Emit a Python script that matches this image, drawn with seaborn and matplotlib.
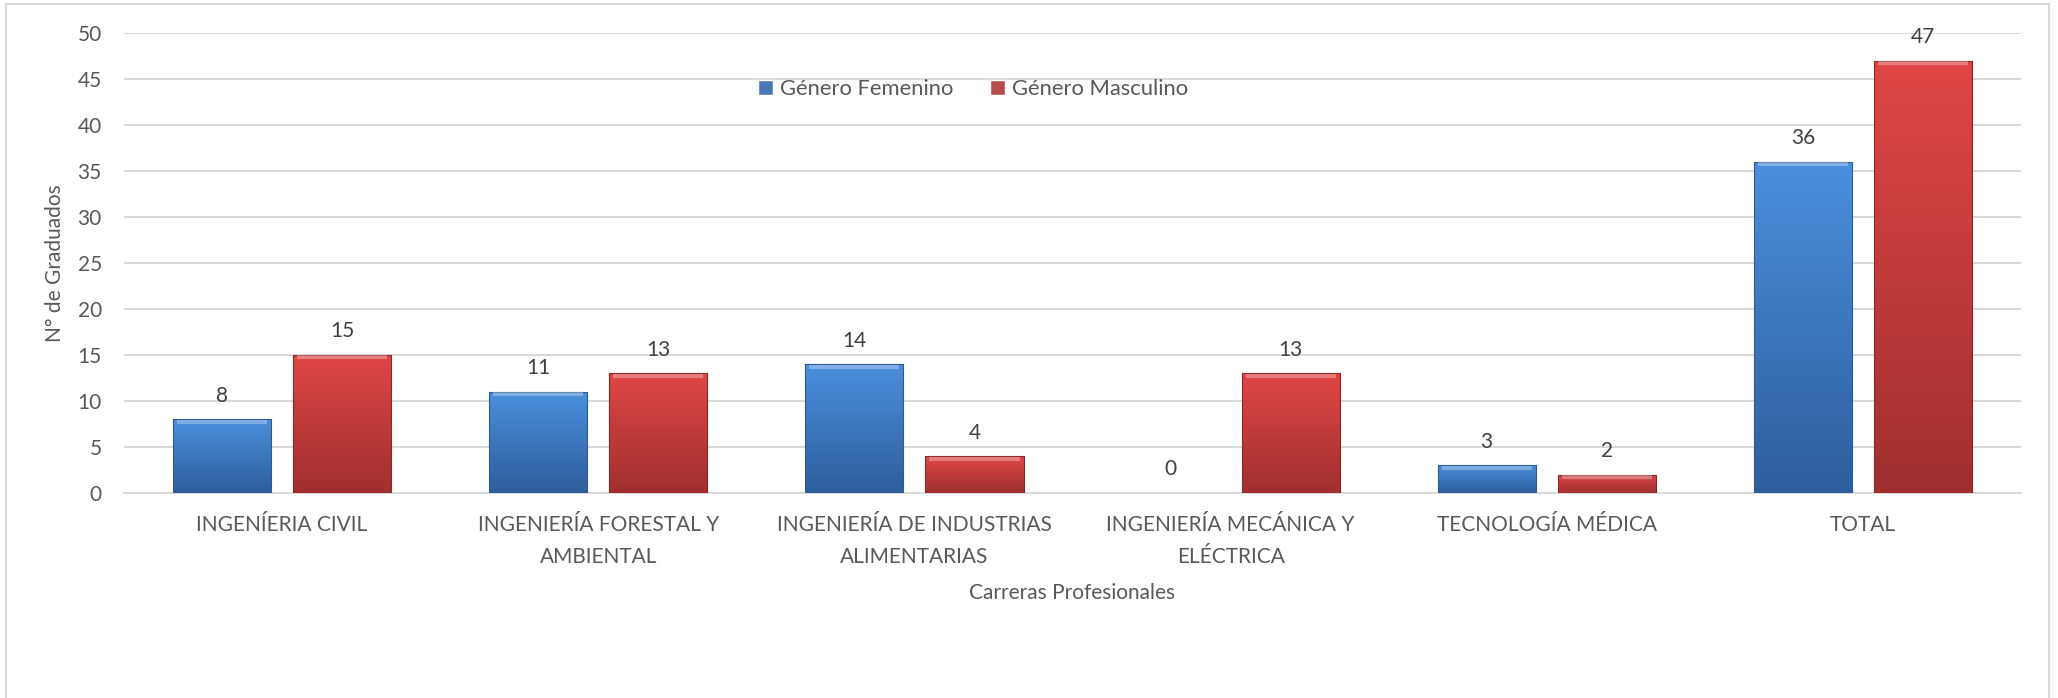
import numpy as np
import pandas as pd
import matplotlib
matplotlib.use('Agg')
import matplotlib.pyplot as plt
import seaborn as sns
from matplotlib.colors import LinearSegmentedColormap
from matplotlib.patches import Rectangle

# Datos
carreras = ['INGENÍERIA CIVIL', 'INGENIERÍA FORESTAL Y\nAMBIENTAL',
            'INGENIERÍA DE INDUSTRIAS\nALIMENTARIAS', 'INGENIERÍA MECÁNICA Y\nELÉCTRICA',
            'TECNOLOGÍA MÉDICA', 'TOTAL']
femenino = [8, 11, 14, 0, 3, 36]
masculino = [15, 13, 4, 13, 2, 47]
generos = ['Género Femenino', 'Género Masculino']

df = pd.DataFrame({
    'Carrera': carreras * 2,
    'Graduados': femenino + masculino,
    'Genero': [generos[0]] * len(carreras) + [generos[1]] * len(carreras),
})

sns.set_style('white')
plt.rcParams['font.family'] = ['Lato', 'DejaVu Sans']

text_gray = '#595959'
colores = {generos[0]: '#3A78C4', generos[1]: '#C83B3B'}
gradientes = {
    generos[0]: ('#4A8FDD', '#2E5E9C'),
    generos[1]: ('#E04646', '#A02F2F'),
}
bordes = {generos[0]: '#2F5A90', generos[1]: '#8A2828'}

fig = plt.figure(figsize=(20.58, 6.98), dpi=100)
ax = fig.add_axes([124 / 2058, 1 - 493 / 698, (2021 - 124) / 2058, 460 / 698])

sns.barplot(data=df, x='Carrera', y='Graduados', hue='Genero', palette=colores,
            width=0.76, gap=0.184, ax=ax, zorder=3, legend=True)

# degradado en cada barra
for cont, gen in zip(ax.containers, generos):
    cmap = LinearSegmentedColormap.from_list(gen, [gradientes[gen][1], gradientes[gen][0]])
    for bar in cont:
        h = bar.get_height()
        if h <= 0:
            bar.set_visible(False)
            continue
        x0 = bar.get_x()
        w = bar.get_width()
        grad = np.linspace(0, 1, 200).reshape(-1, 1)
        grad = np.hstack([grad] * 2)
        im = ax.imshow(grad, extent=[x0, x0 + w, 0, h], origin='lower', aspect='auto',
                       cmap=cmap, zorder=3.5, interpolation='bicubic')
        im.set_clip_path(bar)
        bar.set_edgecolor(bordes[gen])
        bar.set_linewidth(0.8)
        bar.set_zorder(4)
        bar.set_facecolor('none')
        # brillo superior
        ax.plot([x0 + w * 0.04, x0 + w * 0.96], [h - 0.25, h - 0.25],
                color='white', alpha=0.3, lw=3, zorder=4.5, solid_capstyle='butt')

# etiquetas de datos
for cont in ax.containers:
    for bar in cont:
        h = bar.get_height()
        ax.annotate(f'{int(h)}', (bar.get_x() + bar.get_width() / 2, h),
                    xytext=(0, 17), textcoords='offset points', ha='center', va='center',
                    fontsize=15, color='#404040', zorder=6)

ax.set_xlim(-0.5, 5.5)
ax.set_ylim(0, 50)
ax.set_yticks(range(0, 51, 5))
ax.yaxis.grid(True, color='#D9D9D9', lw=1.4, zorder=0)
ax.set_axisbelow(True)
for s in ['top', 'right', 'left']:
    ax.spines[s].set_visible(False)
ax.spines['bottom'].set_color('#D9D9D9')
ax.spines['bottom'].set_linewidth(1.4)

ax.tick_params(axis='y', length=0, pad=16, labelsize=15, labelcolor=text_gray)
ax.tick_params(axis='x', length=0, pad=16, labelsize=15, labelcolor=text_gray)
for t in ax.get_xticklabels():
    t.set_linespacing(1.72)
    t.set_multialignment('center')

ax.set_ylabel('N° de Graduados', fontsize=15, color=text_gray)
ax.set_xlabel('Carreras Profesionales', fontsize=15, color=text_gray)
ax.yaxis.set_label_coords(-0.031, 0.5)
ax.xaxis.set_label_coords(0.5, -0.196)

handles, labels = ax.get_legend_handles_labels()
ax.legend(handles, labels, loc='center', bbox_to_anchor=(0.4475, 0.878), ncol=2,
          frameon=False, fontsize=15.8, handlelength=0.68, handleheight=0.68,
          handletextpad=0.3, columnspacing=1.7, labelcolor=text_gray)

# marco del gráfico
fig.patches.append(Rectangle((6 / 2058, -0.05), (2049 - 6) / 2058, 1.05 - 4 / 698,
                             transform=fig.transFigure, fill=False,
                             edgecolor='#D9D9D9', lw=1.5))

fig.savefig('out.png', dpi=100)
